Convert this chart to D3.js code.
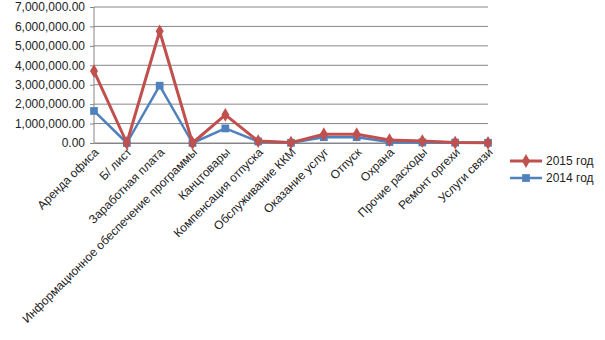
<!DOCTYPE html>
<html>
<head>
<meta charset="UTF-8" />
<title>Расходы 2014-2015</title>
<script src="https://d3js.org/d3.v7.min.js"></script>
<style>
body { margin: 0; background: #fff; }
svg text { font-family: "Liberation Sans", Arial, sans-serif; fill: #222; }
</style>
</head>
<body>
<div id="chart"></div>
<script>
var categories = ["Аренда офиса", "Б/ лист", "Заработная плата", "Информационное обеспечение программы",
  "Канцтовары", "Компенсация отпуска", "Обслуживание ККМ", "Оказание услуг", "Отпуск",
  "Охрана", "Прочие расходы", "Ремонт оргехи", "Услуги связи"];
var values2015 = [3700000, 0, 5750000, 0, 1450000, 100000, 20000, 450000, 450000, 150000, 100000, 20000, 10000];
var values2014 = [1650000, 0, 2950000, 0, 750000, 80000, 10000, 300000, 300000, 50000, 30000, 20000, 10000];
var yTicks = [0, 1000000, 2000000, 3000000, 4000000, 5000000, 6000000, 7000000];

var W = 605, H = 340;
var plotL = 94, plotR = 488, plotT = 7, plotB = 143;

var svg = d3.select("#chart").append("svg").attr("width", W).attr("height", H);

var x = d3.scalePoint().domain(categories).range([plotL, plotR]);
var y = d3.scaleLinear().domain([0, 7000000]).range([plotB, plotT]);
var fmt = d3.format(",.2f");

// grid
svg.append("g").selectAll("line").data(yTicks).enter().append("line")
  .attr("x1", plotL).attr("x2", plotR)
  .attr("y1", function(d){ return y(d); }).attr("y2", function(d){ return y(d); })
  .attr("stroke", "#868686").attr("stroke-width", 1);

svg.append("line").attr("x1", plotL).attr("x2", plotL).attr("y1", plotT).attr("y2", plotB)
  .attr("stroke", "#868686");

// y axis
var yAxis = d3.axisLeft(y).tickValues(yTicks).tickFormat(fmt).tickSize(4).tickPadding(5);
var gy = svg.append("g").attr("transform", "translate(" + plotL + ",0)").call(yAxis);
gy.select(".domain").remove();
gy.selectAll("line").attr("stroke", "#868686");
gy.selectAll("text").style("font-size", "12px").attr("fill", "#222");

// x axis
var xAxis = d3.axisBottom(x).tickSize(0).tickPadding(2);
var gx = svg.append("g").attr("transform", "translate(0," + plotB + ")").call(xAxis);
gx.select(".domain").attr("stroke", "#868686");
gx.selectAll("text").style("font-size", "12px").attr("fill", "#222")
  .attr("text-anchor", "end")
  .attr("dy", "0.35em")
  .attr("transform", "translate(2,7) rotate(-45)")
  .attr("y", 0).attr("x", 0);

var line = d3.line()
  .x(function(d, i){ return x(categories[i]); })
  .y(function(d){ return y(d); });

var series = [
  { name: "2014 год", data: values2014, color: "#4F81BD", sym: d3.symbolSquare, size: 60, w: 2.5 },
  { name: "2015 год", data: values2015, color: "#C0504D", sym: d3.symbolDiamond, size: 55, w: 3 }
];

series.forEach(function(s){
  svg.append("path").datum(s.data).attr("d", line)
    .attr("fill", "none").attr("stroke", s.color).attr("stroke-width", s.w)
    .attr("stroke-linejoin", "round");
  svg.append("g").selectAll("path").data(s.data).enter().append("path")
    .attr("d", d3.symbol().type(s.sym).size(s.size))
    .attr("transform", function(d, i){ return "translate(" + x(categories[i]) + "," + y(d) + ")"; })
    .attr("fill", s.color);
});

// legend
var legend = [series[1], series[0]];
var lg = svg.append("g").selectAll("g").data(legend).enter().append("g")
  .attr("transform", function(d, i){ return "translate(510," + (161 + i * 17) + ")"; });
lg.append("line").attr("x1", 0).attr("x2", 32).attr("stroke", function(d){ return d.color; })
  .attr("stroke-width", function(d){ return d.w; });
lg.append("path").attr("d", function(d){ return d3.symbol().type(d.sym).size(d.size)(); })
  .attr("transform", "translate(16,0)").attr("fill", function(d){ return d.color; });
lg.append("text").attr("x", 36).attr("dy", "0.35em").style("font-size", "12px")
  .text(function(d){ return d.name; });
</script>
</body>
</html>
